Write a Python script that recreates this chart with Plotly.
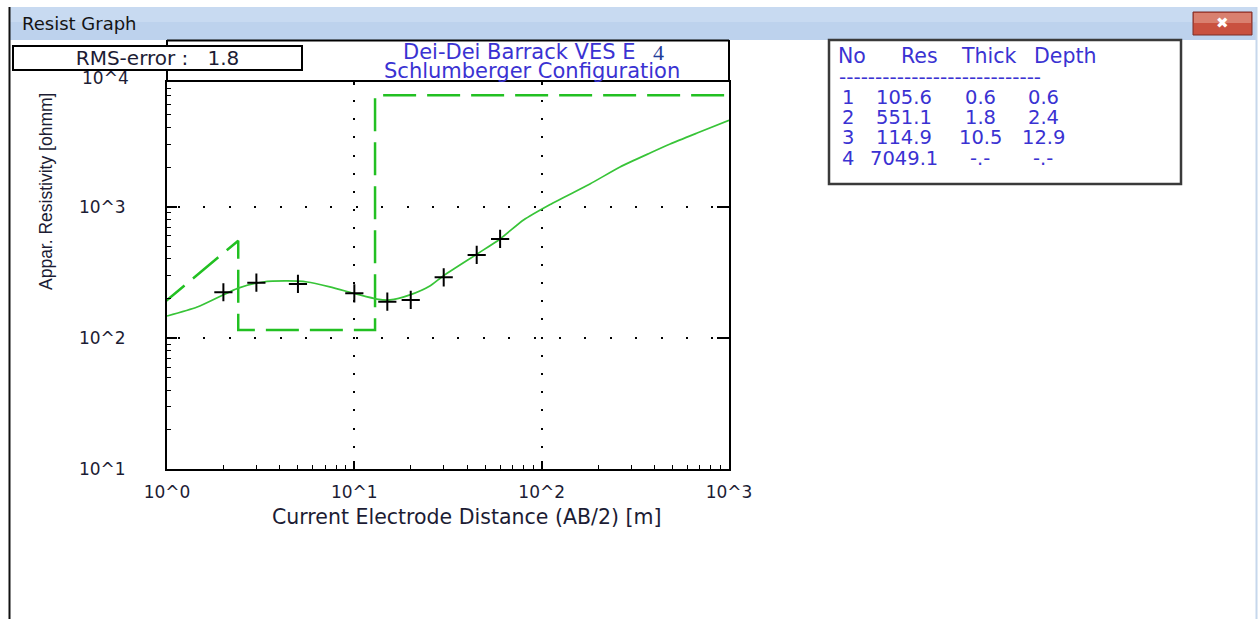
import plotly.graph_objects as go

# Field sounding: half current-electrode spacing AB/2 [m] and apparent resistivity [ohm-m]
ab2 = [2, 3, 5, 10, 15, 20, 30, 45, 60]
rho_app = [223, 264, 258, 219, 189, 195, 290, 429, 568]

# Calculated response curve of the layered model
fit_ab2 = [1.0, 1.45, 2.4, 3.26, 4.37, 5.6, 7.4, 10.3, 13.2, 15.5, 19.8, 25.3,
           29.8, 45.2, 60, 80, 111, 181, 262, 379, 485, 676, 1000]
fit_rho = [147, 172, 240, 267, 272, 267, 245, 216, 198, 195, 213, 249,
           297, 436, 568, 792, 1040, 1490, 2006, 2564, 3002, 3641, 4550]

# Interpreted layer model
layer_no = [1, 2, 3, 4]
layer_res = [105.6, 551.1, 114.9, 7049.1]
layer_thick = [0.6, 1.8, 10.5, None]
layer_depth = [0.6, 2.4, 12.9, None]

rms_error = 1.8
station = "4"

x_tickvals = [1, 10, 100, 1000]
x_ticktext = ["10^0", "10^1", "10^2", "10^3"]
y_tickvals = [10, 100, 1000]
y_ticktext = ["10^1", "10^2", "10^3"]
y_top_label = "10^4"

X_RANGE = [0, 3]
Y_RANGE = [1, 3.952]

W, H = 1258, 620


def px(x):
    return x / W


def py(y):
    return 1 - y / H


def log_minor(lo, hi):
    # 2..9 subdivisions of every decade between 10^lo and 10^hi
    return [m * 10 ** k for k in range(int(lo), int(hi) + 1) for m in range(2, 10)
            if m * 10 ** k < 10 ** hi]


BLUE = "#3a32d2"
DARK = "#1c1c34"
GREEN_DASH = "#22c022"
GREEN_FIT = "#38c438"
SANS = "DejaVu Sans"

# Step model: first segment joins layer 1 to layer 2, then vertical/horizontal steps
x_end = 10 ** X_RANGE[1]
model_x = [layer_depth[0]]
model_y = [layer_res[0]]
for i in range(1, len(layer_res) - 1):
    model_x += [layer_depth[i], layer_depth[i]]
    model_y += [layer_res[i], layer_res[i + 1]]
model_x.append(x_end)
model_y.append(layer_res[-1])

fig = go.Figure()

fig.add_trace(go.Scatter(
    x=model_x, y=model_y, mode="lines",
    line=dict(color=GREEN_DASH, width=2.5, dash="33px,11px"),
    hoverinfo="skip", showlegend=False,
))
fig.add_trace(go.Scatter(
    x=fit_ab2, y=fit_rho, mode="lines",
    line=dict(color=GREEN_FIT, width=1.7, shape="spline", smoothing=0.6),
    hoverinfo="skip", showlegend=False,
))
fig.add_trace(go.Scatter(
    x=ab2, y=rho_app, mode="markers",
    marker=dict(symbol="cross-thin", size=13, color="black",
                line=dict(color="black", width=2)),
    hoverinfo="skip", showlegend=False,
))
# empty trace that carries the top/right tick axes
fig.add_trace(go.Scatter(x=[], y=[], xaxis="x2", yaxis="y2",
                         showlegend=False, hoverinfo="skip"))

axis_common = dict(
    type="log",
    showline=True, linecolor="black", linewidth=2,
    mirror=True,
    ticks="inside", tickwidth=2, tickcolor="black",
    tickmode="array",
    tickfont=dict(family=SANS, size=17, color=DARK),
    showgrid=True, gridcolor="black", gridwidth=2,
    zeroline=False, fixedrange=True, automargin=False,
)

mirror_common = dict(
    type="log", ticks="inside", tickwidth=2, tickcolor="black",
    tickmode="array", showticklabels=False, showgrid=False,
    showline=False, zeroline=False, fixedrange=True, automargin=False,
)

fig.update_layout(
    width=W, height=H,
    margin=dict(l=0, r=0, t=0, b=0, pad=0),
    paper_bgcolor="white", plot_bgcolor="white",
    hovermode=False,
    xaxis=dict(
        axis_common,
        domain=[px(167), px(729)], range=X_RANGE,
        tickvals=x_tickvals, ticktext=x_ticktext,
        ticklen=8, ticklabelstandoff=6,
        griddash="2px,16.2px",
        minor=dict(tickmode="array", tickvals=log_minor(*X_RANGE), ticks="inside",
                   ticklen=4, tickwidth=1, tickcolor="black", showgrid=False),
    ),
    yaxis=dict(
        axis_common,
        domain=[py(469.3), py(81.7)], range=Y_RANGE,
        tickvals=y_tickvals, ticktext=y_ticktext,
        ticklen=10, ticklabelstandoff=36,
        griddash="0px,11px,2px,12.4px",
        minor=dict(tickmode="array", tickvals=log_minor(*Y_RANGE), ticks="inside",
                   ticklen=4, tickwidth=1, tickcolor="black", showgrid=False),
    ),
    xaxis2=dict(mirror_common, overlaying="x", side="top", anchor="y2",
                range=X_RANGE, tickvals=x_tickvals, ticklen=3),
    yaxis2=dict(mirror_common, overlaying="y", side="right", anchor="x2",
                range=Y_RANGE, tickvals=y_tickvals, ticklen=12),
)

shapes = [
    # window title bar
    dict(type="rect", xref="paper", yref="paper", x0=px(10), x1=px(1257),
         y0=py(40), y1=py(7), fillcolor="#bdd2ed", line=dict(width=0), layer="below"),
    dict(type="rect", xref="paper", yref="paper", x0=px(10), x1=px(1257),
         y0=py(22), y1=py(7), fillcolor="#c8daf1", line=dict(width=0), layer="below"),
    # window borders
    dict(type="line", xref="paper", yref="paper", x0=px(9.5), x1=px(9.5),
         y0=py(7), y1=py(619), line=dict(color="#111111", width=2)),
    dict(type="line", xref="paper", yref="paper", x0=px(1256.5), x1=px(1256.5),
         y0=py(7), y1=py(619), line=dict(color="#c6d7ec", width=2)),
    # close button
    dict(type="rect", xref="paper", yref="paper", x0=px(1193), x1=px(1252),
         y0=py(35), y1=py(12), fillcolor="#c9513f", line=dict(color="#7a2e28", width=1)),
    dict(type="rect", xref="paper", yref="paper", x0=px(1194), x1=px(1251),
         y0=py(23), y1=py(13), fillcolor="#d9806f", line=dict(width=0)),
    # title box above the plot frame
    dict(type="line", xref="paper", yref="paper", x0=px(167), x1=px(729),
         y0=py(40.5), y1=py(40.5), line=dict(color="black", width=2)),
    dict(type="line", xref="paper", yref="paper", x0=px(167), x1=px(167),
         y0=py(40), y1=py(82), line=dict(color="black", width=2)),
    dict(type="line", xref="paper", yref="paper", x0=px(729), x1=px(729),
         y0=py(40), y1=py(82), line=dict(color="black", width=2)),
    # layer table frame
    dict(type="rect", xref="paper", yref="paper", x0=px(829), x1=px(1181),
         y0=py(184), y1=py(40), fillcolor="white", line=dict(color="#3a3a3a", width=2.5),
         layer="below"),
]

ann = []


def text(x, y, s, size=20, color=DARK, family=SANS, xanchor="center", **kw):
    ann.append(dict(xref="paper", yref="paper", x=px(x), y=py(y), text=s,
                    showarrow=False, xanchor=xanchor, yanchor="middle",
                    font=dict(family=family, size=size, color=color), **kw))


# window caption
text(20, 24, "Resist Graph", size=18, color="#141414", xanchor="left")
text(1222, 23, "\u2716", size=15, color="white")

# chart title
text(519, 52, "Dei-Dei Barrack VES E", size=21, color=BLUE)
text(658, 53, station, size=22, color="#1f3d99", family="Liberation Serif")
text(532, 71, "Schlumberger Configuration", size=21, color=BLUE)

# axis titles
text(466, 517, "Current Electrode Distance (AB/2) [m]", size=20.5, color=DARK)
text(46, 192, "Appar. Resistivity [ohmm]", size=17.5, color=DARK,
     family="Liberation Sans", textangle=-90)

# top decade label of the resistivity axis
text(105, 78, y_top_label, size=17, color=DARK)

# RMS box drawn over the top label
ann.append(dict(xref="paper", yref="paper", x=px(157.5), y=py(58),
                text=f"RMS-error :\u00a0\u00a0\u00a0{rms_error}",
                showarrow=False, xanchor="center", yanchor="middle",
                width=287, height=22, borderpad=0, borderwidth=2,
                bordercolor="black", bgcolor="white",
                font=dict(family=SANS, size=20, color=DARK)))

# layer table
header = [("No", 852), ("Res", 919), ("Thick", 988), ("Depth", 1065)]
for label, hx in header:
    text(hx, 56, label, size=20.5, color=BLUE)
text(837, 77, "-" * 28, size=20, color=BLUE, xanchor="left")

col_x = [848, 904, 980, 1043]
row_y = [97, 117, 137, 158]


def fmt(v):
    return "-.-" if v is None else f"{v}"


for i, n in enumerate(layer_no):
    cells = [str(n), fmt(layer_res[i]), fmt(layer_thick[i]), fmt(layer_depth[i])]
    for cx, c in zip(col_x, cells):
        text(cx, row_y[i], c, size=19.5, color=BLUE)

fig.update_layout(shapes=shapes, annotations=ann)

fig.write_html("out.html")
